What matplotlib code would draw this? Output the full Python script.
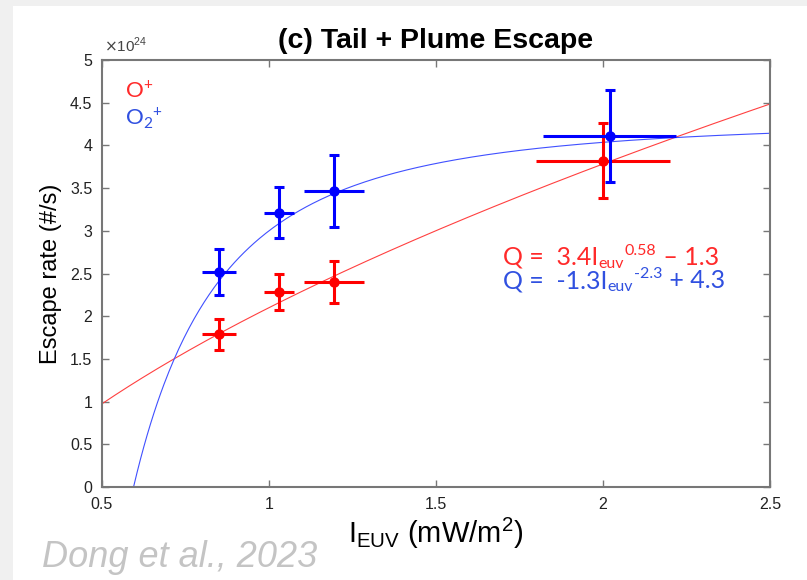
import matplotlib.pyplot as plt
import numpy as np
from matplotlib import font_manager
from matplotlib.patches import Rectangle

# data in units of 1e24 #/s
euv_o = [0.85, 1.03, 1.195, 2.0]
rate_o = [1.79, 2.28, 2.40, 3.82]
rate_o_err = [0.18, 0.21, 0.25, 0.44]
euv_o_err = [0.05, 0.045, 0.09, 0.2]

euv_o2 = [0.85, 1.03, 1.195, 2.02]
rate_o2 = [2.52, 3.21, 3.47, 4.11]
rate_o2_err = [0.27, 0.30, 0.42, 0.54]
euv_o2_err = [0.05, 0.045, 0.09, 0.2]

# fit coefficients shown on the chart: Q = a * I^b + c
fit_o = [3.4, 0.58, -1.3]
fit_o2 = [-1.3, -2.3, 4.3]

xticks = [0.5, 1, 1.5, 2, 2.5]
xticklabels = ["0.5", "1", "1.5", "2", "2.5"]
yticks = [0, 0.5, 1, 1.5, 2, 2.5, 3, 3.5, 4, 4.5, 5]
yticklabels = ["0", "0.5", "1", "1.5", "2", "2.5", "3", "3.5", "4", "4.5", "5"]

red = "#ff0000"
blue = "#0000ff"
txt_red = "#ff2a2a"
txt_blue = "#3050e0"

fig = plt.figure(figsize=(8.07, 5.80), dpi=100)
fig.patch.set_facecolor("#f0f0f0")
fig.patches.append(
    Rectangle((13 / 807, 0), 1, 1 - 6 / 580, transform=fig.transFigure,
              facecolor="white", edgecolor="none", zorder=-10)
)

ax = fig.add_axes([102 / 807, 93 / 580, 668 / 807, 427 / 580])
ax.set_facecolor("white")

xs = np.linspace(0.5, 2.5, 400)
ax.plot(xs, fit_o[0] * xs ** fit_o[1] + fit_o[2], color="#ff4040", lw=0.8)
ax.plot(xs, fit_o2[0] * xs ** fit_o2[1] + fit_o2[2], color="#4050ff", lw=0.8)

for x, y, xe, ye, c in [(euv_o, rate_o, euv_o_err, rate_o_err, red),
                        (euv_o2, rate_o2, euv_o2_err, rate_o2_err, blue)]:
    # horizontal bars have no caps, vertical ones do
    ax.errorbar(x, y, xerr=xe, fmt="none", ecolor=c, elinewidth=2.2,
                capsize=0)
    ax.errorbar(x, y, yerr=ye, fmt="o", color=c, ms=6.5, elinewidth=2.2,
                capsize=3.3, capthick=2.2)

ax.set_xlim(0.5, 2.5)
ax.set_ylim(0, 5)
ax.set_xticks(xticks)
ax.set_xticklabels(xticklabels)
ax.set_yticks(yticks)
ax.set_yticklabels(yticklabels)
ax.tick_params(direction="in", length=5, width=1, color="#777777",
               top=True, right=True, labelsize=11.5, labelcolor="#222222")
ax.tick_params(axis="x", pad=7)
ax.tick_params(axis="y", pad=7)
for lab in ax.get_xticklabels() + ax.get_yticklabels():
    lab.set_family("Liberation Sans")
for s in ax.spines.values():
    s.set_color("#777777")
    s.set_linewidth(1.5)

ax.text(0.003, 1.012, r"$\times$10$^\mathregular{24}$", transform=ax.transAxes,
        fontsize=11, color="#444444", family="Liberation Sans", va="bottom")
ax.set_title("(c) Tail + Plume Escape", fontsize=20.5, fontweight="bold",
             family="Liberation Sans", pad=9)
ax.set_ylabel("Escape rate (#/s)", fontsize=17, family="Liberation Sans",
              labelpad=6)
ax.set_xlabel(r"I$_\mathregular{EUV}$ (mW/m$^\mathregular{2}$)", fontsize=21,
              family="Liberation Sans", labelpad=3)

ax.text(0.034, 0.911, r"O$^\mathregular{+}$", transform=ax.transAxes,
        fontsize=16, color=txt_red, family="Lato", va="baseline")
ax.text(0.034, 0.848, r"O$_\mathregular{2}$$^\mathregular{+}$",
        transform=ax.transAxes, fontsize=16, color=txt_blue, family="Lato",
        va="baseline")


def equation(y, parts, color):
    # parts: (text, size, vertical offset in points); each piece follows
    # the previous one on the same baseline
    prev = ax.text(0.6, y, parts[0][0], transform=ax.transAxes,
                   fontsize=parts[0][1], color=color, family="Lato",
                   va="baseline")
    for s, size, dy in parts[1:]:
        prev = ax.annotate(s, xy=(1, y), xycoords=(prev, ax.transAxes),
                           xytext=(0.5, dy), textcoords="offset points",
                           fontsize=size, color=color, family="Lato",
                           va="baseline", ha="left")


equation(0.52, [("Q =  3.4I", 18, 0), ("euv", 11.5, -2.5), ("0.58", 11.5, 7),
                (" – 1.3", 18, 0)], txt_red)
equation(0.466, [("Q =  -1.3I", 18, 0), ("euv", 11.5, -2.5), ("-2.3", 11.5, 7),
                 (" + 4.3", 18, 0)], txt_blue)

# condensed face if one is there, else plain sans at a smaller size
names = {f.name for f in font_manager.fontManager.ttflist}
if "Liberation Sans Narrow" in names:
    cite_font, cite_size = "Liberation Sans Narrow", 31
else:
    cite_font, cite_size = "Liberation Sans", 26
fig.text(42 / 807, 1 - 567 / 580, "Dong et al., 2023", fontsize=cite_size,
         style="italic", color="#c4c4c4", family=cite_font, va="baseline")

fig.savefig("out.png", dpi=100, facecolor=fig.get_facecolor())
